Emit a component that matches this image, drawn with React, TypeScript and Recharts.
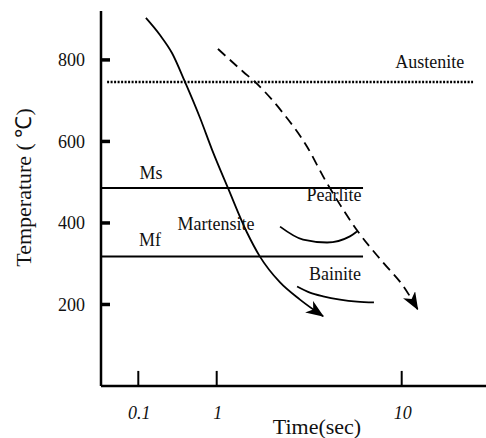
import React from 'react';
import { LineChart, Line, XAxis, YAxis, ReferenceDot } from 'recharts';

// ---- Axis definitions (non-uniform time axis as drawn in the original) ----
const X_TICK_TIMES = [0.1, 1, 10];
const X_TICK_LABELS = ['0.1', '1', '10'];
const Y_TICKS = [200, 400, 600, 800];
const Y_DOMAIN: [number, number] = [0, 920];
// axis units: the decade 0.1–1 spans 78.4 units, 1–10 spans 185 units
const X_DOMAIN: [number, number] = [0, 385];
const ORIGIN_U = 115.7;
const DECADE_BELOW_1 = 78.4;
const DECADE_ABOVE_1 = 185;
const toU = (t: number) => {
  const L = Math.log10(t);
  return ORIGIN_U + L * (L <= 0 ? DECADE_BELOW_1 : DECADE_ABOVE_1);
};
// inward tick mark lengths, in axis units
const Y_TICK_LEN = 9;
const X_TICK_LEN = 37;

// ---- Series (time in sec, temperature in °C) ----
const fastTime = [0.125, 0.189, 0.269, 0.394, 0.612, 0.871, 1.15, 1.46, 1.71, 2.2, 2.82, 3.76];
const fastTemp = [903, 861, 817, 746, 658, 580, 486, 376, 318, 254, 212, 171];

const slowTime = [1.016, 1.39, 1.61, 2.28, 3.08, 3.85, 4.64, 5.8, 7.93, 10.2, 12.2];
const slowTemp = [827, 771, 746, 670, 587, 506, 445, 379, 303, 245, 188];

const pearliteTime = [2.2, 2.93, 3.95, 5.25, 5.73];
const pearliteTemp = [391, 359, 352, 367, 379];

const bainiteTime = [2.72, 3.19, 3.76, 4.64, 5.73, 7.08];
const bainiteTemp = [244, 229, 220, 212, 207, 205];

const austeniteTime = [0.04, 24.3];
const austeniteTemp = [746, 746];
const msTime = [0.0336, 6.18];
const msTemp = [486, 486];
const mfTime = [0.0336, 6.18];
const mfTemp = [318, 318];

const labelTexts = ['Austenite', 'Ms', 'Pearlite', 'Martensite', 'Mf', 'Bainite'];
const labelTime = [14.2, 0.145, 4.31, 0.98, 0.141, 4.36];
const labelTemp = [795, 523, 469, 398, 359, 274];

// axis titles, anchored in axis units (outside the plot area)
const X_TITLE = 'Time(sec)';
const X_TITLE_AT = { u: 216, T: -100 };
const Y_TITLE = 'Temperature ( ℃)';
const Y_TITLE_AT = { u: -77, T: 487 };

const build = (ts: number[], vs: number[]) => ts.map((t, i) => ({ u: toU(t), T: vs[i] }));

const yTickMarks = Y_TICKS.map((v) => [
  { u: X_DOMAIN[0], T: v },
  { u: X_DOMAIN[0] + Y_TICK_LEN, T: v },
]);
const xTickMarks = X_TICK_TIMES.map((t) => [
  { u: toU(t), T: Y_DOMAIN[0] },
  { u: toU(t), T: Y_DOMAIN[0] + X_TICK_LEN },
]);

const FONT = '"Liberation Serif", "Times New Roman", serif';

const YTick = (props: any) => {
  const { x, y, payload } = props;
  return (
    <text x={Number(x)} y={Number(y)} dy="0.35em" textAnchor="end" fontFamily={FONT} fontSize={18} fill="#111">
      {payload.value}
    </text>
  );
};

const XTick = (props: any) => {
  const { x, y, payload } = props;
  const idx = X_TICK_TIMES.findIndex((t) => Math.abs(toU(t) - payload.value) < 1e-6);
  return (
    <text x={Number(x) + 1} y={Number(y) + 33} textAnchor="middle" fontFamily={FONT} fontStyle="italic" fontSize={18} fill="#111">
      {idx >= 0 ? X_TICK_LABELS[idx] : ''}
    </text>
  );
};

const TextLabel = (text: string, size: number, angle = 0) => (props: any) => {
  const vb = props.viewBox || {};
  const cx = vb.x + (vb.width || 0) / 2;
  const cy = vb.y + (vb.height || 0) / 2;
  return (
    <text
      x={cx}
      y={cy}
      transform={angle ? `rotate(${angle}, ${cx}, ${cy})` : undefined}
      textAnchor="middle"
      dominantBaseline="central"
      fontFamily={FONT}
      fontSize={size}
      fill="#111"
    >
      {text}
    </text>
  );
};

export default function App() {
  return (
    <div style={{ position: 'absolute', left: 0, top: 0, width: 486, height: 438, background: '#fff' }}>
      <LineChart width={486} height={438} margin={{ top: 11, right: 0, bottom: 0, left: 0 }}>
        <defs>
          <marker
            id="arrowHead"
            viewBox="0 0 18 14"
            refX={17}
            refY={7}
            markerWidth={18}
            markerHeight={14}
            markerUnits="userSpaceOnUse"
            orient="auto"
          >
            <path d="M0,0 L18,7 L0,14 L5,7 Z" fill="#000" />
          </marker>
        </defs>
        <XAxis
          type="number"
          dataKey="u"
          domain={X_DOMAIN}
          ticks={X_TICK_TIMES.map(toU)}
          height={52}
          tickSize={0}
          tickMargin={0}
          tick={<XTick />}
          axisLine={{ stroke: '#000', strokeWidth: 2.5 }}
          tickLine={false}
        />
        <YAxis
          type="number"
          domain={Y_DOMAIN}
          ticks={Y_TICKS}
          width={101}
          tickSize={0}
          tickMargin={16}
          tick={<YTick />}
          axisLine={{ stroke: '#000', strokeWidth: 2.5 }}
          tickLine={false}
        />
        {yTickMarks.map((d, i) => (
          <Line
            key={`ytm${i}`}
            data={d}
            dataKey="T"
            type="linear"
            stroke="#000"
            strokeWidth={3.5}
            dot={false}
            activeDot={false}
            isAnimationActive={false}
          />
        ))}
        {xTickMarks.map((d, i) => (
          <Line
            key={`xtm${i}`}
            data={d}
            dataKey="T"
            type="linear"
            stroke="#000"
            strokeWidth={2}
            dot={false}
            activeDot={false}
            isAnimationActive={false}
          />
        ))}
        <Line
          data={build(austeniteTime, austeniteTemp)}
          dataKey="T"
          type="linear"
          stroke="#000"
          strokeWidth={2.5}
          strokeDasharray="2 1.5"
          dot={false}
          activeDot={false}
          isAnimationActive={false}
        />
        <Line data={build(msTime, msTemp)} dataKey="T" type="linear" stroke="#000" strokeWidth={2} dot={false} activeDot={false} isAnimationActive={false} />
        <Line data={build(mfTime, mfTemp)} dataKey="T" type="linear" stroke="#000" strokeWidth={2} dot={false} activeDot={false} isAnimationActive={false} />
        <Line data={build(pearliteTime, pearliteTemp)} dataKey="T" type="monotone" stroke="#000" strokeWidth={1.8} dot={false} activeDot={false} isAnimationActive={false} />
        <Line data={build(bainiteTime, bainiteTemp)} dataKey="T" type="monotone" stroke="#000" strokeWidth={1.8} dot={false} activeDot={false} isAnimationActive={false} />
        <Line
          data={build(fastTime, fastTemp)}
          dataKey="T"
          type="monotone"
          stroke="#000"
          strokeWidth={1.8}
          dot={false}
          activeDot={false}
          markerEnd="url(#arrowHead)"
          isAnimationActive={false}
        />
        <Line
          data={build(slowTime, slowTemp)}
          dataKey="T"
          type="monotone"
          stroke="#000"
          strokeWidth={1.8}
          strokeDasharray="10 6"
          dot={false}
          activeDot={false}
          markerEnd="url(#arrowHead)"
          isAnimationActive={false}
        />
        {labelTexts.map((txt, i) => (
          <ReferenceDot
            key={txt}
            x={toU(labelTime[i])}
            y={labelTemp[i]}
            r={0}
            fill="none"
            stroke="none"
            label={{ content: TextLabel(txt, 18) }}
          />
        ))}
        <ReferenceDot
          x={X_TITLE_AT.u}
          y={X_TITLE_AT.T}
          r={0}
          fill="none"
          stroke="none"
          ifOverflow="visible"
          label={{ content: TextLabel(X_TITLE, 22) }}
        />
        <ReferenceDot
          x={Y_TITLE_AT.u}
          y={Y_TITLE_AT.T}
          r={0}
          fill="none"
          stroke="none"
          ifOverflow="visible"
          label={{ content: TextLabel(Y_TITLE, 22, -90) }}
        />
      </LineChart>
    </div>
  );
}
